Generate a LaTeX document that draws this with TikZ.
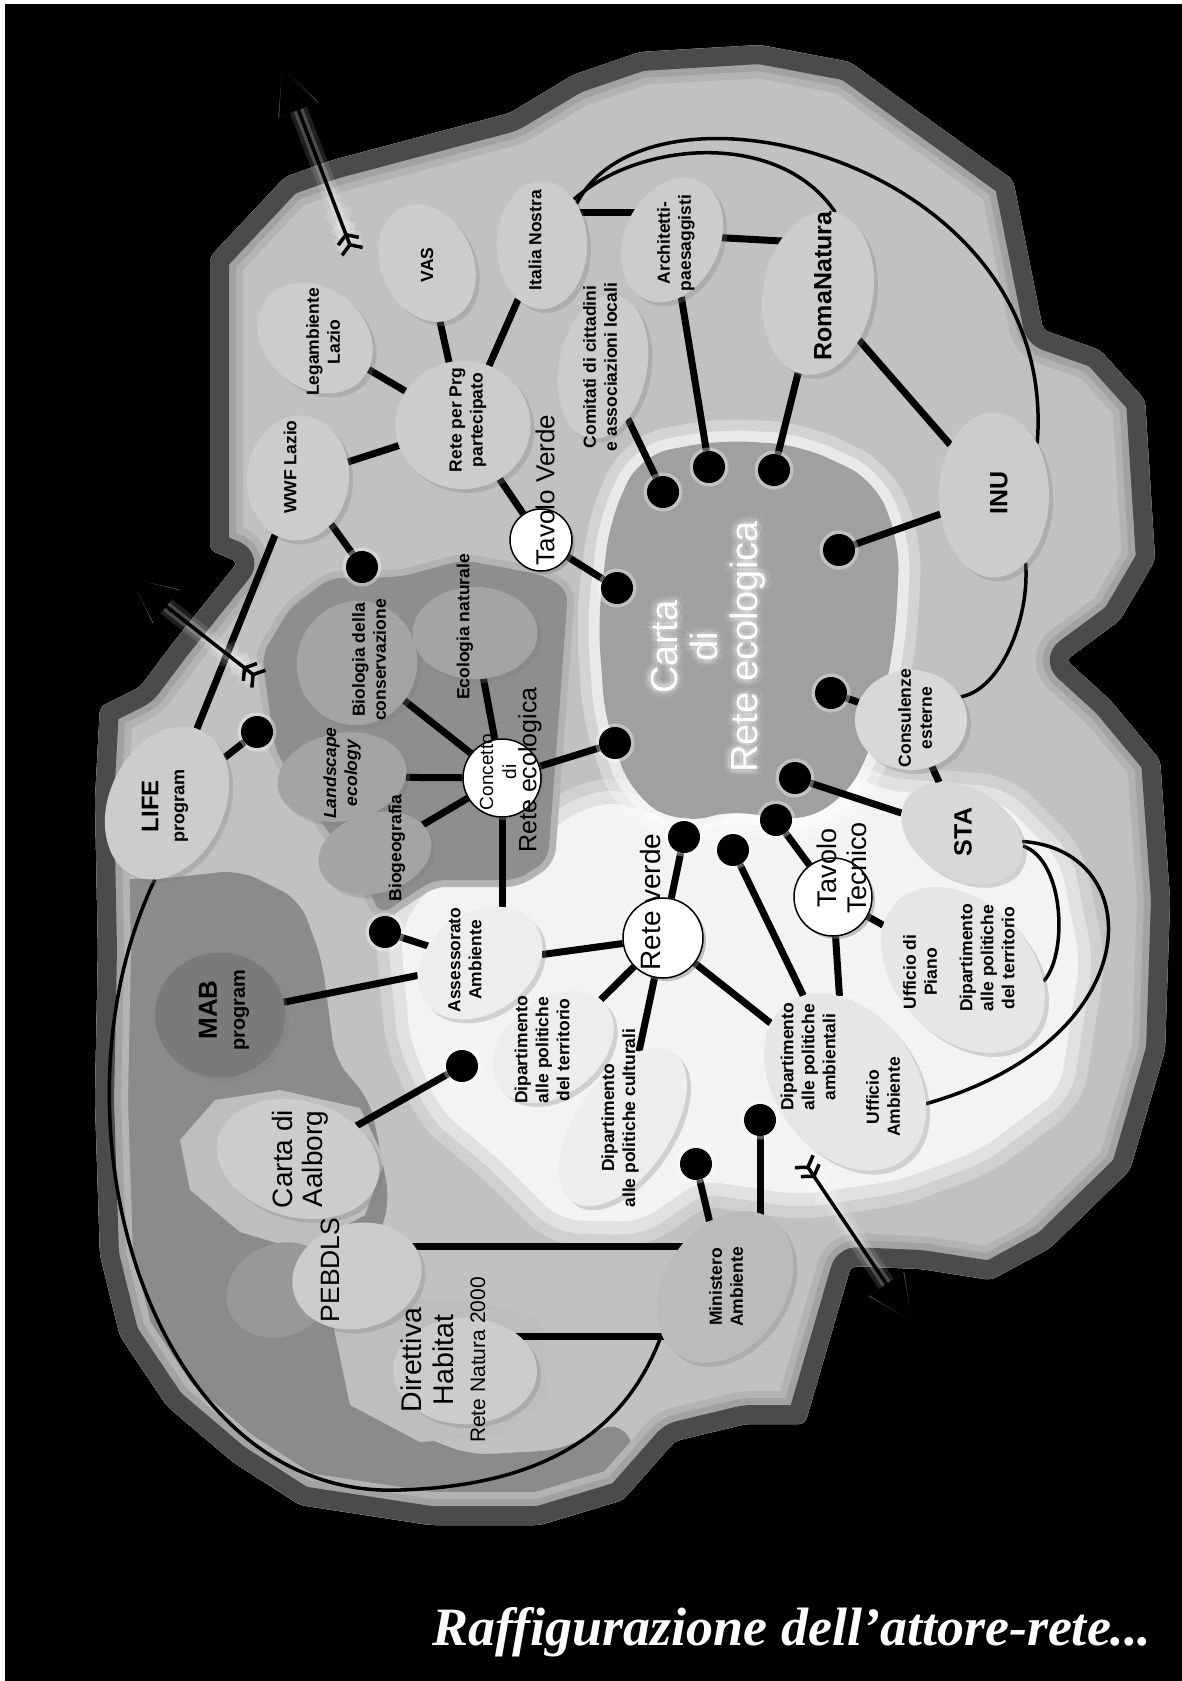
\documentclass[tikz,border=0pt]{standalone}
\usepackage{fontspec}
\setmainfont{Liberation Sans}
\newfontfamily\capfont{Liberation Serif}
\usetikzlibrary{shapes,arrows.meta,positioning,calc,shadows}

\definecolor{rim}{HTML}{4B4B4B}
\definecolor{bandB}{HTML}{A2A2A2}
\definecolor{bandC}{HTML}{B3B3B3}
\definecolor{field}{HTML}{C1C1C1}
\definecolor{low}{HTML}{8B8B8B}
\definecolor{bio}{HTML}{8E8E8E}
\definecolor{core}{HTML}{A0A0A0}
\definecolor{pale}{HTML}{F3F3F3}
\definecolor{paleB}{HTML}{E1E1E1}
\definecolor{paleC}{HTML}{D0D0D0}
\definecolor{ovtop}{HTML}{CCCCCC}
\definecolor{ovlight}{HTML}{D8D8D8}
\definecolor{ovpale}{HTML}{E6E6E6}
\definecolor{ovwhite}{HTML}{EDEDED}
\definecolor{ovmid}{HTML}{BBBBBB}
\definecolor{ovbio}{HTML}{A4A4A4}
\definecolor{ovdark}{HTML}{7A7A7A}
\definecolor{bgA}{HTML}{BEBEBE}
\definecolor{bgD}{HTML}{989898}

\pgfdeclarelayer{ground}
\pgfdeclarelayer{wires}
\pgfsetlayers{ground,wires,main}

\tikzstyle{oval} = [ellipse, inner sep=0pt, fill=ovtop, drop shadow={opacity=0.3,shadow xshift=4pt,shadow yshift=-4pt}]
\tikzstyle{hub} = [circle, inner sep=0pt, draw=black, line width=1.5pt, fill=white, drop shadow={opacity=0.45,shadow xshift=3pt,shadow yshift=-3pt}]
\tikzstyle{dot} = [circle, inner sep=0pt, fill=black, minimum size=32pt, preaction={draw=white, line width=7pt, opacity=0.35}]
\tikzstyle{lbl} = [rotate=90, align=center, inner sep=0pt, font=\fontsize{17.5}{21}\selectfont\bfseries]
\tikzstyle{big} = [rotate=90, align=center, inner sep=0pt, font=\fontsize{25}{28}\selectfont\bfseries]
\tikzstyle{hubtext} = [rotate=90, align=center, inner sep=0pt, font=\fontsize{27}{30}\selectfont]
\tikzstyle{cartatext} = [rotate=90, align=center, inner sep=0pt, text=white, font=\fontsize{38}{40}\selectfont]
\tikzstyle{link} = [line width=7pt]
\tikzstyle{tie} = [line width=3.5pt]
\tikzstyle{exit} = [line width=3.5pt, arrows={Straight Barb[reversed,length=7pt,width=22pt] Straight Barb[reversed,length=7pt,width=22pt]-Triangle[length=46pt,width=40pt]}]

\newcommand\blobpath{(210,257) -- (285,177) -- (333,160) -- (510,113) -- (573,75) -- (640,52) -- (760,45) -- (850,62) -- (902,100) -- (1013,180) -- (1043,330) -- (1100,350) -- (1145,400) -- (1155,560) -- (1120,620) -- (1066,660) -- (1110,700) -- (1160,760) -- (1170,900) -- (1165,1050) -- (1130,1170) -- (1050,1248) -- (991,1280) -- (921,1269) -- (851,1266) -- (805,1424) -- (746,1424) -- (675,1441) -- (623,1500) -- (540,1525) -- (430,1525) -- (300,1505) -- (233,1462) -- (167,1406) -- (120,1336) -- (100,1255) -- (95,1100) -- (98,950) -- (95,800) -- (100,707) -- (140,687) -- (173,643) -- (238,562) -- (210,550) -- cycle}
\newcommand\lowpath{(150,880) -- (240,870) -- (300,900) -- (322,960) -- (335,1060) -- (370,1100) -- (390,1200) -- (360,1300) -- (380,1420) -- (470,1455) -- (560,1450) -- (620,1420) -- (640,1460) -- (640,1600) -- (0,1600) -- (0,870) -- cycle}
\newcommand\biopath{(262,655) -- (290,608) -- (330,578) -- (400,577) -- (463,560) -- (543,575) -- (568,590) -- (560,700) -- (548,860) -- (517,880) -- (433,880) -- (380,915) -- (360,870) -- (330,835) -- (275,750) -- cycle}
\newcommand\palepath{(400,930) -- (430,885) -- (520,880) -- (560,820) -- (610,800) -- (700,830) -- (760,800) -- (830,760) -- (880,790) -- (1000,800) -- (1060,860) -- (1080,960) -- (1060,1090) -- (980,1150) -- (900,1180) -- (800,1195) -- (700,1180) -- (640,1222) -- (560,1220) -- (500,1160) -- (440,1110) -- (410,1040) -- cycle}
\newcommand\corepath{(610,520) -- (640,455) -- (720,440) -- (800,445) -- (875,480) -- (900,545) -- (895,640) -- (875,740) -- (845,800) -- (790,825) -- (740,808) -- (680,825) -- (632,795) -- (605,720) -- (598,620) -- cycle}

\begin{document}
\begin{tikzpicture}[x=1pt, y=-1pt]
\useasboundingbox (0,0) rectangle (1182,1681);

% Ground
\begin{pgfonlayer}{ground}
  \fill[white] (0,0) rectangle (1182,1681);
  \fill[black] (5,4) rectangle (1182,1681);
  \fill[field, rounded corners=6pt] \blobpath;
  \begin{scope}
    \clip[rounded corners=6pt] \blobpath;
    \fill[low, rounded corners=20pt] \lowpath;
    \draw[paleC, line width=50pt, line join=round, rounded corners=20pt] \palepath;
    \draw[paleB, line width=26pt, line join=round, rounded corners=20pt] \palepath;
    \fill[pale, rounded corners=20pt] \palepath;
    \draw[bandC, line width=14pt, line join=round, rounded corners=12pt] \biopath;
    \fill[bio, rounded corners=12pt] \biopath;
    \draw[white, opacity=0.3, line width=44pt, line join=round, rounded corners=30pt] \corepath;
    \draw[white, opacity=0.5, line width=22pt, line join=round, rounded corners=30pt] \corepath;
    \fill[core, rounded corners=30pt] \corepath;
    \fill[bgA] (180,1140) -- (215,1100) -- (280,1090) -- (360,1108) -- (385,1160) -- (365,1215) -- (300,1250) -- (240,1232) -- (190,1190) -- cycle;
    \fill[bgD, rotate around={25:(280,1290)}] (280,1290) ellipse (55 and 46);
    \fill[bgA] (330,1310) -- (390,1298) -- (470,1300) -- (540,1318) -- (548,1400) -- (500,1436) -- (420,1442) -- (350,1405) -- cycle;
    \draw[bandC, line width=66pt, line join=round, rounded corners=6pt] \blobpath;
    \draw[bandB, line width=52pt, line join=round, rounded corners=6pt] \blobpath;
    \draw[rim, line width=38pt, line join=round, rounded corners=6pt] \blobpath;
  \end{scope}
\end{pgfonlayer}

% Actors
\node[oval, minimum width=92pt, minimum height=122pt, rotate=24] (vas) at (427,263) {};
\node[oval, minimum width=90pt, minimum height=128pt] (itnostra) at (542,245) {};
\node[oval, minimum width=125pt, minimum height=100pt, rotate=-40] (legamb) at (315,338) {};
\node[oval, minimum width=135pt, minimum height=128pt] (rprg) at (463,425) {};
\node[oval, minimum width=102pt, minimum height=125pt, rotate=-5] (wwf) at (298,478) {};
\node[oval, minimum width=95pt, minimum height=130pt, rotate=-25] (archit) at (672,240) {};
\node[oval, minimum width=88pt, minimum height=145pt, rotate=-11] (comitati) at (603,367) {};
\node[oval, minimum width=110pt, minimum height=165pt, rotate=-10] (romanat) at (818,293) {};
\node[oval, minimum width=110pt, minimum height=165pt] (inu) at (994,495) {};
\node[oval, fill=ovlight, minimum width=112pt, minimum height=100pt] (consul) at (911,720) {};
\node[oval, fill=ovlight, minimum width=130pt, minimum height=90pt, rotate=-30] (sta) at (962,833) {};
\node[oval, fill=ovpale, minimum width=135pt, minimum height=190pt, rotate=44] (uffpiano) at (963,970) {};
\node[oval, fill=ovpale, minimum width=140pt, minimum height=195pt, rotate=37] (dipamb) at (845,1082) {};
\node[oval, fill=ovwhite, minimum width=135pt, minimum height=100pt, rotate=35] (assess) at (480,963) {};
\node[oval, fill=ovwhite, minimum width=135pt, minimum height=95pt, rotate=38] (dipterr) at (553,1047) {};
\node[oval, fill=ovwhite, minimum width=95pt, minimum height=180pt, rotate=-34] (dipcult) at (623,1127) {};
\node[oval, fill=ovmid, minimum width=120pt, minimum height=165pt, rotate=-35] (ministero) at (725,1287) {};
\node[oval, minimum width=144pt, minimum height=106pt] (direttiva) at (465,1371) {};
\node[oval, minimum width=131pt, minimum height=105pt, rotate=15] (pebdls) at (357,1276) {};
\node[oval, minimum width=165pt, minimum height=116pt, rotate=-15] (aalborg) at (298,1159) {};
\node[oval, fill=ovdark, minimum width=130pt, minimum height=125pt] (mab) at (220,1015) {};
\node[oval, minimum width=115pt, minimum height=160pt, rotate=-25] (life) at (167,803) {};
\node[oval, fill=ovbio, minimum width=120pt, minimum height=125pt, rotate=-20] (biolog) at (357,663) {};
\node[oval, fill=ovbio, minimum width=125pt, minimum height=92pt] (econat) at (475,633) {};
\node[oval, fill=ovbio, minimum width=130pt, minimum height=88pt, rotate=10] (landsc) at (342,777) {};
\node[oval, fill=ovbio, minimum width=115pt, minimum height=80pt, rotate=15] (biogeo) at (375,853) {};

% Hubs
\node[hub, minimum size=62pt] (tverde) at (541,540) {};
\node[hub, minimum size=78pt] (concetto) at (502,778) {};
\node[hub, minimum size=80pt] (retev) at (663,938) {};
\node[hub, minimum size=78pt] (tavtec) at (833,897) {};

% Dots
\node[dot] (dwwf) at (362,567) {};
\node[dot] (dlife) at (257,732) {};
\node[dot] (dcom) at (663,492) {};
\node[dot] (darch) at (709,467) {};
\node[dot] (droma) at (774,470) {};
\node[dot] (dinu) at (839,550) {};
\node[dot] (dtv) at (617,588) {};
\node[dot] (dconc) at (615,743) {};
\node[dot] (dcons) at (831,693) {};
\node[dot] (dsta) at (795,778) {};
\node[dot] (dtt) at (776,820) {};
\node[dot] (drv) at (684,837) {};
\node[dot] (dda) at (733,850) {};
\node[dot] (dass) at (385,932) {};
\node[dot] (daal) at (462,1066) {};
\node[dot] (dmin1) at (760,1120) {};
\node[dot] (dmin2) at (696,1164) {};

% Connections
\begin{pgfonlayer}{wires}
  \draw[link] (life) -- (wwf);
  \draw[link] (life) -- (dlife);
  \draw[link] (wwf) -- (dwwf);
  \draw[link] (wwf) -- (rprg);
  \draw[link] (legamb) -- (rprg);
  \draw[link] (vas) -- (rprg);
  \draw[link] (itnostra) -- (rprg);
  \draw[link] (rprg) -- (tverde);
  \draw[link] (tverde) -- (dtv);
  \draw[link] ([yshift=33pt]itnostra.center) -- ([yshift=33pt]itnostra.center -| archit);
  \draw[link] ([yshift=5pt]archit.center) -- ([yshift=50pt]romanat.center);
  \draw[link] (romanat) -- (inu);
  \draw[link] (comitati) -- (dcom);
  \draw[link] (archit) -- (darch);
  \draw[link] (romanat) -- (droma);
  \draw[link] (inu) -- (dinu);
  \draw[link] (consul) -- (dcons);
  \draw[link] (consul) -- (sta);
  \draw[link] (sta) -- (dsta);
  \draw[link] (tavtec) -- (dtt);
  \draw[link] (tavtec) -- (uffpiano);
  \draw[link] (tavtec) -- (dipamb);
  \draw[link] (retev) -- (drv);
  \draw[link] (dipamb) -- (dda);
  \draw[link] (concetto) -- (dconc);
  \draw[link] (concetto) -- (biolog);
  \draw[link] (concetto) -- (econat);
  \draw[link] (concetto) -- (landsc);
  \draw[link] (concetto) -- (biogeo);
  \draw[link] (concetto) -- (concetto |- assess);
  \draw[link] (assess) -- (dass);
  \draw[link] (assess) -- (retev);
  \draw[link] (assess) -- (mab);
  \draw[link] (retev) -- (dipterr);
  \draw[link] (retev) -- (dipcult);
  \draw[link] (retev) -- (dipamb);
  \draw[link] (aalborg) -- (daal);
  \draw[link] (dmin1) -- (dmin1 |- ministero);
  \draw[link] (dmin2) -- (ministero);
  \draw[link] ([yshift=30pt]pebdls.center) -- ([yshift=30pt]pebdls.center -| ministero);
  \draw[link] ([yshift=35pt]direttiva.center) -- ([yshift=35pt]direttiva.center -| ministero);
  % Long ties
  \draw[tie] (itnostra.50) .. controls (650,60) and (1060,160) .. (inu.50);
  \draw[tie] (itnostra.55) .. controls (640,140) and (780,130) .. (romanat.88);
  \draw[tie] (inu.-65) .. controls (1030,620) and (1000,690) .. (consul.25);
  \draw[tie] (sta.18) .. controls (1065,860) and (1068,955) .. (uffpiano.-52);
  \draw[tie] (sta.22) .. controls (1150,850) and (1150,1040) .. (dipamb.-52);
  \draw[tie] (life.-74) .. controls (40,1120) and (150,1500) .. (400,1490) .. controls (560,1485) and (630,1420) .. (ministero.-108);
\end{pgfonlayer}

% Labels
\node[lbl] (vas-t) at (427,265) {VAS};
\node[lbl] (itnostra-t) at (535,240) {Italia Nostra};
\node[lbl] (legamb-t) at (323,342) {Legambiente\\Lazio};
\node[lbl] (rprg-t) at (468,420) {Rete per Prg\\partecipato};
\node[lbl] (wwf-t) at (290,467) {WWF Lazio};
\node[lbl] (archit-t) at (676,243) {Architetti-\\paesaggisti};
\node[lbl] (comitati-t) at (600,367) {Comitati di cittadini\\e associazioni locali};
\node[big] (romanat-t) at (823,286) {RomaNatura};
\node[big] (inu-t) at (999,493) {INU};
\node[lbl] (consul-t) at (915,718) {Consulenze\\esterne};
\node[big] (sta-t) at (963,832) {STA};
\node[lbl] (uffpiano-t) at (920,972) {Ufficio di\\Piano};
\node[lbl] (dipterr2-t) at (987,958) {Dipartimento\\alle politiche\\del territorio};
\node[lbl] (dipamb-t) at (808,1057) {Dipartimento\\alle politiche\\ambientali};
\node[lbl] (uffamb-t) at (883,1097) {Ufficio\\Ambiente};
\node[lbl] (assess-t) at (465,960) {Assessorato\\Ambiente};
\node[lbl] (dipterr-t) at (542,1050) {Dipartimento\\alle politiche\\del territorio};
\node[lbl] (dipcult-t) at (620,1118) {Dipartimento\\alle politiche culturali};
\node[lbl] (ministero-t) at (726,1287) {Ministero\\Ambiente};
\node[lbl] (biolog-t) at (369,660) {Biologia della\\conservazione};
\node[lbl] (econat-t) at (465,627) {Ecologia naturale};
\node[lbl, font=\fontsize{17.5}{21}\selectfont\bfseries\itshape] (landsc-t) at (342,773) {Landscape\\ecology};
\node[lbl] (biogeo-t) at (397,848) {Biogeografia};
\node[big, font=\fontsize{24}{26}\selectfont\bfseries] (life-t) at (165,806) {LIFE\\{\fontsize{18}{20}\selectfont program}};
\node[big, font=\fontsize{26}{28}\selectfont\bfseries] (mab-t) at (224,1010) {MAB\\{\fontsize{20}{22}\selectfont program}};
\node[hubtext, font=\fontsize{28}{30}\selectfont] (aalborg-t) at (300,1159) {Carta di\\Aalborg};
\node[hubtext, font=\fontsize{26.5}{30}\selectfont] (pebdls-t) at (330,1270) {PEBDLS};
\node[hubtext, font=\fontsize{28.5}{32}\selectfont] (direttiva-t) at (443,1360) {Direttiva\\Habitat\\{\fontsize{21}{24}\selectfont Rete Natura 2000}};
\node[hubtext, font=\fontsize{26}{30}\selectfont] (tverde-t) at (545,490) {Tavolo Verde};
\node[hubtext] (tavtec-t) at (842,868) {Tavolo\\Tecnico};
\node[hubtext, font=\fontsize{28}{30}\selectfont] (retev-t) at (650,902) {Rete verde};
\node[hubtext, font=\fontsize{19}{23}\selectfont] (concetto-t) at (498,772) {Concetto\\di};
\node[hubtext, font=\fontsize{25}{28}\selectfont] (concrete-t) at (530,770) {Rete ecologica};

% Carta di Rete ecologica
\coordinate (carta) at (708,647);
\foreach \a in {0,45,...,315}
  \node[cartatext, text opacity=0.07] (glowA\a) at ($(carta)+(\a:7)$) {Carta\\di\\Rete ecologica};
\foreach \a in {0,45,...,315}
  \node[cartatext, text opacity=0.12] (glowB\a) at ($(carta)+(\a:3.5)$) {Carta\\di\\Rete ecologica};
\node[cartatext] (carta-t) at (carta) {Carta\\di\\Rete ecologica};

% Exits
\coordinate (ntail) at (353,253);
\coordinate (ntip) at (282,67);
\coordinate (wtail) at (260,680);
\coordinate (wtip) at (130,578);
\coordinate (stail) at (803,1160);
\coordinate (stip) at (912,1322);
\foreach \t/\h in {ntail/ntip, wtail/wtip, stail/stip}{
  \draw[exit, white, opacity=0.12, line width=18pt, line join=round] (\t) -- (\h);
  \draw[exit, white, opacity=0.2, line width=10pt, line join=round] (\t) -- (\h);
  \draw[exit] (\t) -- (\h);
}

% Caption
\node[anchor=base, text=white, font=\capfont\bfseries\itshape\fontsize{54}{60}\selectfont] (caption) at (792,1645) {Raffigurazione dell’attore-rete...};
\end{tikzpicture}
\end{document}
